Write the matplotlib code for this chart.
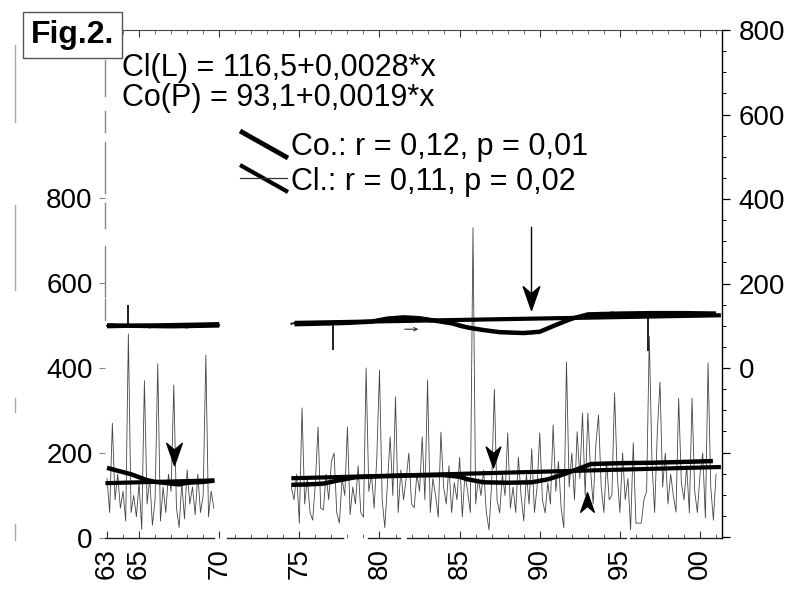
import numpy as np
import matplotlib
matplotlib.use('Agg')
import matplotlib.pyplot as plt
import matplotlib.transforms as mtransforms
from matplotlib.path import Path
from matplotlib.lines import Line2D
from matplotlib.patches import Rectangle
from matplotlib.ticker import FixedLocator, MultipleLocator, FuncFormatter

plt.rcParams['font.family'] = ['Liberation Sans', 'DejaVu Sans']

# ---------------- data ----------------
year_ticks = [1963, 1965, 1970, 1975, 1980, 1985, 1990, 1995, 2000]
year_labels = ['63', '65', '70', '75', '80', '85', '90', '95', '00']
left_ticks = [0, 200, 400, 600, 800]
right_ticks = [-400, -200, 0, 200, 400, 600, 800]

# Cl (left axis), two-monthly values
cl_step = 1 / 6
cl_seg1_start = 1963.0
cl_seg1 = [140, 60, 270, 90, 150, 70, 110, 40, 480, 60, 100, 50, 130, 20, 370, 80,
           140, 30, 90, 410, 40, 120, 60, 150, 110, 360, 70, 25, 130, 45, 160, 80,
           120, 55, 150, 60, 100, 430, 50, 110, 70]
cl_seg2_start = 1974.5
cl_seg2 = [120, 90, 150, 35, 306, 80, 140, 60, 42, 130, 261, 70,
           66, 150, 90, 180, 200, 60, 35, 140, 100, 261, 55, 120,
           80, 170, 60, 49, 400, 110, 150, 70, 190, 395, 90, 24,
           130, 238, 100, 332, 60, 160, 90, 140, 200, 80, 71, 150,
           110, 238, 90, 372, 60, 140, 100, 49, 249, 120, 80, 170,
           60, 130, 90, 190, 50, 150, 110, 60, 730, 80, 140, 100,
           160, 60, 19, 130, 350, 90, 59, 150, 100, 247, 70, 120,
           60, 190, 100, 40, 150, 80, 210, 60, 120, 247, 90, 59,
           130, 80, 266, 110, 180, 70, 24, 414, 120, 200, 90, 250,
           140, 294, 100, 294, 160, 80, 220, 289, 120, 60, 180, 90,
           101, 341, 150, 60, 200, 90, 140, 19, 224, 35, 35, 35,
           90, 110, 475, 180, 60, 250, 367, 120, 200, 80, 150, 100,
           61, 329, 130, 90, 170, 59, 329, 110, 60, 150, 200, 47,
           412, 120, 42, 150]

# Co (right axis), values every 4 months
co_step = 1 / 3
co_seg1_start = 1963.0
co_seg1 = [100, 104, 97, 102, 101, 98, 103, 100, 96, 101, 99, 103, 97, 100, 98, 96,
           99, 101, 98, 100, 102, 101]
co_seg2_start = 1974.5
co_seg2 = [105, 108, 102, 106, 109, 104, 107, 103, 106, 108,
           105, 110, 107, 111, 106, 112, 109, 114, 118, 121,
           117, 122, 119, 121, 116, 113, 110, 113, 108, 111,
           105, 100, 96, 99, 93, 91, 88, 90, 86, 84,
           87, 82, 85, 83, 86, 82, 85, 89, 93, 99,
           104, 109, 113, 118, 122, 126, 129, 127, 131, 128,
           132, 129, 127, 131, 128, 132, 129, 130, 130, 127,
           131, 128, 132, 129, 127, 130, 128, 131, 129, 127]
# single-month Co outliers (from band value to extreme value)
co_spike_x = [1964.28, 1977.12, 1996.75]
co_spike_from = [100, 106, 130]
co_spike_to = [150, 43, 40]

# smoothed curves
cl_smooth1_x = [1963.0, 1963.5, 1964.0, 1964.5, 1965.0, 1965.5, 1966.0, 1967.0, 1967.5, 1968.0, 1969.0, 1969.7]
cl_smooth1_y = [165, 160, 155, 150, 143, 136, 132, 128, 126, 130, 132, 135]
cl_smooth2_x = [1974.5, 1975.5, 1976.5, 1977.5, 1978.5, 1980, 1982, 1984, 1985, 1985.5, 1986.5,
                1988, 1989.5, 1990.5, 1991.5, 1992.5, 1993.2, 1995, 1997, 1999, 2000.8]
cl_smooth2_y = [125, 126, 128, 136, 143, 145, 147, 148, 144, 138, 131, 130, 131, 138, 150,
                164, 174, 176, 177, 179, 181]
co_smooth1_x = [1963.0, 1965.0, 1967.0, 1970.0]
co_smooth1_y = [101, 100, 99, 101]
co_smooth2_x = [1974.7, 1976, 1978, 1979.5, 1980.5, 1981.5, 1982.5, 1983.5, 1984.5, 1985.5,
                1986.5, 1987.5, 1989, 1990, 1991, 1992, 1993, 1995, 1997, 1999, 2001.0]
co_smooth2_y = [104, 105, 107, 110, 117, 120, 118, 112, 106, 96, 90, 85, 83, 86, 102, 117,
                127, 129, 130, 130, 129]

# linear trends (per segment)
cl_trend1_x, cl_trend1_y = [1962.9, 1969.7], [129, 135.5]
cl_trend2_x, cl_trend2_y = [1974.5, 2001.3], [140.5, 167]
co_trend1_x, co_trend1_y = [1963.0, 1970.0], [99, 104]
co_trend2_x, co_trend2_y = [1974.7, 2001.3], [107, 125]

# ---------------- figure ----------------
W, H = 795, 590
fig = plt.figure(figsize=(W / 100, H / 100), dpi=100)
fig.patch.set_facecolor('white')
ax = fig.add_axes([105 / W, 52 / H, 617 / W, 508 / H])
ax2 = ax.twinx()

ax.set_xlim(1962.875, 2001.37)
ax.set_ylim(0, 1195)
ax2.set_ylim(-402, 800)

def seg_x(start, step, n):
    return start + step * np.arange(n)

# Cl thin data
for st, vals in [(cl_seg1_start, cl_seg1), (cl_seg2_start, cl_seg2)]:
    ax.plot(seg_x(st, cl_step, len(vals)), vals, color='#454545', lw=0.6, zorder=2)
# Cl smooth & trend
for xs, ys in [(cl_smooth1_x, cl_smooth1_y), (cl_smooth2_x, cl_smooth2_y)]:
    ax.plot(xs, ys, color='black', lw=3.2, zorder=3, solid_capstyle='butt')
for xs, ys in [(cl_trend1_x, cl_trend1_y), (cl_trend2_x, cl_trend2_y)]:
    ax.plot(xs, ys, color='black', lw=3.0, zorder=3, solid_capstyle='butt')

# Co data
for st, vals in [(co_seg1_start, co_seg1), (co_seg2_start, co_seg2)]:
    ax2.plot(seg_x(st, co_step, len(vals)), vals, color='#202020', lw=1.4, zorder=2)
ax2.vlines(co_spike_x, co_spike_from, co_spike_to, color='#202020', lw=1.4, zorder=2)
for xs, ys in [(co_smooth1_x, co_smooth1_y), (co_smooth2_x, co_smooth2_y)]:
    ax2.plot(xs, ys, color='black', lw=3.2, zorder=3, solid_capstyle='butt')
for xs, ys in [(co_trend1_x, co_trend1_y), (co_trend2_x, co_trend2_y)]:
    ax2.plot(xs, ys, color='black', lw=3.0, zorder=3, solid_capstyle='butt')

# arrow heads
down_head = Path([(0, -1), (-0.7, 1), (0, 0.4), (0.7, 1), (0, -1)],
                 [Path.MOVETO, Path.LINETO, Path.LINETO, Path.LINETO, Path.CLOSEPOLY])
up_head = Path([(0, 1), (-0.7, -1), (0, -0.4), (0.7, -1), (0, 1)],
               [Path.MOVETO, Path.LINETO, Path.LINETO, Path.LINETO, Path.CLOSEPOLY])
ax.plot([1967.2], [198], marker=down_head, ms=16, color='black', ls='none', zorder=5)
ax.plot([1987.08], [190], marker=down_head, ms=15, color='black', ls='none', zorder=5)
ax.plot([1992.95], [85], marker=up_head, ms=14, color='black', ls='none', zorder=5)
ax2.plot([1989.45, 1989.45], [334, 180], color='black', lw=1.0, zorder=5)
ax2.plot([1989.45], [165], marker=down_head, ms=17, color='black', ls='none', zorder=5)
ax2.annotate('', xy=(1982.6, 92), xytext=(1981.4, 92),
             arrowprops=dict(arrowstyle='->', lw=0.8, color='#333', mutation_scale=6))

# ---------------- axes styling ----------------
for a in (ax, ax2):
    for s in ('left', 'bottom'):
        a.spines[s].set_visible(False)
ax.spines['right'].set_visible(False)
ax2.spines['top'].set_visible(False)
ax.spines['top'].set_color('#444')
ax.spines['top'].set_linewidth(0.8)
ax2.spines['right'].set_color('black')
ax2.spines['right'].set_linewidth(1.0)

# broken bottom axis line
btrans = mtransforms.blended_transform_factory(ax.transData, ax.transAxes)
for a0, a1 in [(1962.9, 1969.7), (1970.5, 1977.7), (1979.3, 1981.3), (1981.7, 1995.4), (1995.6, 2001.4)]:
    ax.add_line(Line2D([a0, a1], [0, 0], transform=btrans, color='#222', lw=1.0, clip_on=False))
# faint broken left spine
for b0, b1 in [(0.43, 0.47), (0.475, 0.575), (0.61, 0.66), (0.68, 0.78), (0.80, 0.84), (0.87, 0.94)]:
    ax.add_line(Line2D([0, 0], [b0, b1], transform=ax.transAxes, color='#888', lw=1.0, clip_on=False))

ax.set_xticks(year_ticks)
ax.set_xticklabels(year_labels, rotation=90, fontsize=20)
ax.xaxis.set_minor_locator(MultipleLocator(1))
ax.tick_params(axis='x', which='major', direction='in', length=5, width=0.8, color='#333',
               pad=7, top=True, bottom=True)
ax.tick_params(axis='x', which='minor', direction='in', length=3, width=0.6, color='#555',
               top=True, bottom=True)

ax.set_yticks(left_ticks)
ax.set_yticklabels([str(v) for v in left_ticks], fontsize=20)
ax.tick_params(axis='y', which='major', direction='out', length=4, width=0.8, color='#888', pad=5)

ax2.yaxis.set_major_locator(FixedLocator(right_ticks))
ax2.yaxis.set_major_formatter(FuncFormatter(lambda v, p: '' if v < 0 else str(int(v))))
ax2.yaxis.set_minor_locator(MultipleLocator(50))
ax2.tick_params(axis='y', which='major', direction='out', length=6, width=0.9, pad=6, labelsize=20)
ax2.tick_params(axis='y', which='minor', direction='out', length=3, width=0.7)

# ---------------- texts ----------------
fs = 22
fig.text(122 / W, 1 - 68 / H, 'Cl(L) = 116,5+0,0028*x', fontsize=fs, va='center', ha='left')
fig.text(122 / W, 1 - 98 / H, 'Co(P) = 93,1+0,0019*x', fontsize=fs, va='center', ha='left')
fig.text(291 / W, 1 - 147 / H, 'Co.: r = 0,12, p = 0,01', fontsize=fs, va='center', ha='left')
fig.text(291 / W, 1 - 182 / H, 'Cl.: r = 0,11, p = 0,02', fontsize=fs, va='center', ha='left')

fig.add_artist(Line2D([240 / W, 288 / W], [1 - 131 / H, 1 - 158 / H], transform=fig.transFigure,
                      color='black', lw=3.5, solid_capstyle='butt'))
fig.add_artist(Line2D([240 / W, 288 / W], [1 - 165 / H, 1 - 192 / H], transform=fig.transFigure,
                      color='black', lw=3.0, solid_capstyle='butt'))
fig.add_artist(Line2D([240 / W, 287 / W], [1 - 178 / H, 1 - 178 / H], transform=fig.transFigure,
                      color='#333', lw=0.9))

# Fig.2. box
rect = Rectangle((23 / W, 1 - 58 / H), 99 / W, 46 / H, transform=fig.transFigure,
                 facecolor='white', edgecolor='#555', lw=1.0, zorder=10)
fig.add_artist(rect)
fig.text(72.5 / W, 1 - 35 / H, 'Fig.2.', fontsize=23, fontweight='bold', ha='center',
         va='center', zorder=11)

# scan artifact line at left edge
for y0, y1 in [(45, 122), (205, 290), (398, 412), (524, 540)]:
    fig.add_artist(Line2D([15 / W, 15 / W], [1 - y0 / H, 1 - y1 / H], transform=fig.transFigure,
                          color='#aaa', lw=1.0))

fig.savefig('out.png', dpi=100, facecolor='white')
